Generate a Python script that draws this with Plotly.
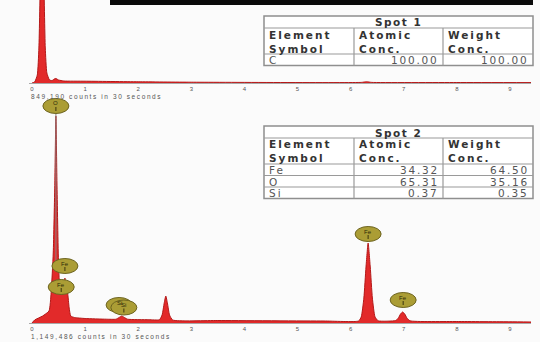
import plotly.graph_objects as go

W, H = 540, 342

# ---- spectra (energy in keV, counts) ----
spot1_energy = [0.0, 0.05, 0.10, 0.13, 0.16, 0.19, 0.22, 0.25, 0.28, 0.33, 0.38, 0.42,
                0.45, 0.50, 0.60, 1.0, 2.0, 3.0, 6.2, 6.3, 6.4, 8.0, 9.4]
spot1_counts = [0, 10, 80, 350, 1100, 1600, 1100, 350, 100, 30, 25, 40,
                45, 30, 20, 18, 12, 8, 6, 12, 6, 5, 4]

spot2_energy = [0.0, 0.05, 0.20, 0.32, 0.36, 0.40, 0.43, 0.45, 0.47, 0.50, 0.53, 0.57,
                0.60, 0.62, 0.64, 0.67, 0.70, 0.73, 0.80, 1.0, 1.4, 1.58, 1.64, 1.69,
                1.74, 1.80, 2.2, 2.40, 2.45, 2.49, 2.52, 2.55, 2.59, 2.65, 3.5, 5.5,
                6.15, 6.20, 6.25, 6.29, 6.33, 6.37, 6.41, 6.46, 6.52, 6.85, 6.90, 6.94,
                6.98, 7.02, 7.06, 7.12, 8.0, 9.0, 9.4]
spot2_counts = [0, 30, 70, 120, 300, 700, 1400, 2070, 1400, 600, 340, 320,
                340, 450, 340, 300, 150, 70, 55, 45, 38, 38, 55, 70,
                55, 38, 33, 33, 80, 200, 270, 200, 80, 30, 25, 20,
                20, 60, 250, 560, 800, 560, 250, 60, 22, 25, 50, 90,
                110, 90, 50, 22, 15, 12, 10]

# element markers on the spot 2 spectrum
marker_symbols = ["O", "Fe", "Fe", "Si", "Si", "Fe", "Fe"]
marker_energy = [0.45, 0.55, 0.62, 1.64, 1.73, 6.33, 6.99]
marker_counts = [2170, 360, 570, 180, 155, 890, 230]
o_line_bottom = 600          # lower end of the O line drawn through its peak

energy_ticks = list(range(10))
spot1_total = "849,190"
spot2_total = "1,149,486"

# ---- quantification tables ----
table_headers = [("Element", "Symbol"), ("Atomic", "Conc."), ("Weight", "Conc.")]
spot1_elements = ["C"]
spot1_atomic = [100.00]
spot1_weight = [100.00]
spot2_elements = ["Fe", "O", "Si"]
spot2_atomic = [34.32, 65.31, 0.37]
spot2_weight = [64.50, 35.16, 0.35]

# ---- layout helpers (pixel -> paper) ----
def px(x):
    return x / W

def py(y):
    return 1 - y / H

X0, KEV = 32.0, 53.1          # pixel of 0 keV, pixels per keV
XL, XR = 29.0, 531.0
xrange_ = [(XL - X0) / KEV, (XR - X0) / KEV]

RED_FILL = "#e22a2a"
RED_LINE = "#b41818"
TXT = "#333333"
FONT = "DejaVu Sans"
SMALL_FONT = "Liberation Sans"

fig = go.Figure()

fig.add_trace(go.Scatter(x=spot1_energy, y=spot1_counts, mode="lines",
                         line=dict(color=RED_LINE, width=1, shape="spline", smoothing=0.5),
                         fill="tozeroy", fillcolor=RED_FILL, xaxis="x", yaxis="y",
                         hoverinfo="skip", showlegend=False))
fig.add_trace(go.Scatter(x=spot2_energy, y=spot2_counts, mode="lines",
                         line=dict(color=RED_LINE, width=1, shape="spline", smoothing=0.5),
                         fill="tozeroy", fillcolor=RED_FILL, xaxis="x2", yaxis="y2",
                         hoverinfo="skip", showlegend=False))

axis_common = dict(domain=[px(XL), px(XR)], range=xrange_, showline=True,
                   linecolor="#a8a8a8", linewidth=1, tickvals=energy_ticks,
                   ticktext=[str(t) for t in energy_ticks],
                   tickfont=dict(family=SMALL_FONT, size=6, color="#555"),
                   ticks="", showgrid=False, zeroline=False, fixedrange=True)

shapes = []
annotations = []

def spaced(text, sp):
    return f'<span style="letter-spacing:{sp}px">{text}</span>'

# black scale bar strip at the top
shapes.append(dict(type="rect", xref="paper", yref="paper", x0=px(110), x1=px(533),
                   y0=py(5), y1=py(0), fillcolor="#0a0a0a", line=dict(width=0), layer="above"))

# counts captions
for total, y in ((spot1_total, 96), (spot2_total, 336)):
    annotations.append(dict(xref="paper", yref="paper", x=px(29), y=py(y), xanchor="left",
                            yanchor="middle", showarrow=False,
                            text=spaced(f"{total} counts in 30 seconds", 1.6),
                            font=dict(family=SMALL_FONT, size=6.5, color="#555")))


def draw_table(top, title, elements, atomic, weight):
    left, right = 264, 533
    cols = [264, 354, 443, 533]
    title_h, head_h, row_h = 12, 26, 11.5
    bottom = top + title_h + head_h + row_h * len(elements)
    shapes.append(dict(type="rect", xref="paper", yref="paper", x0=px(left), x1=px(right),
                       y0=py(bottom), y1=py(top), fillcolor="#ffffff",
                       line=dict(color="#8f8f8f", width=1.5)))
    ys = [top + title_h, top + title_h + head_h] + \
         [top + title_h + head_h + row_h * (i + 1) for i in range(len(elements) - 1)]
    for y in ys:
        shapes.append(dict(type="line", xref="paper", yref="paper", x0=px(left), x1=px(right),
                           y0=py(y), y1=py(y), line=dict(color="#9a9a9a", width=1.2)))
    for c in cols[1:-1]:
        shapes.append(dict(type="line", xref="paper", yref="paper", x0=px(c), x1=px(c),
                           y0=py(top + title_h), y1=py(bottom),
                           line=dict(color="#9a9a9a", width=1.2)))
    annotations.append(dict(xref="paper", yref="paper", x=px((left + right) / 2),
                            y=py(top + title_h / 2 + 0.5), xanchor="center", yanchor="middle",
                            showarrow=False, text="<b>" + spaced(title, 1.5) + "</b>",
                            font=dict(family=FONT, size=10.5, color=TXT)))
    for i, (l1, l2) in enumerate(table_headers):
        annotations.append(dict(xref="paper", yref="paper", x=px(cols[i] + 3),
                                y=py(top + title_h + head_h / 2 + 0.5), xanchor="left",
                                yanchor="middle", align="left", showarrow=False,
                                text="<b>" + spaced(l1, 2.0) + "<br>" + spaced(l2, 2.0) + "</b>",
                                font=dict(family=FONT, size=10.5, color=TXT)))
    for r, (el, a, w) in enumerate(zip(elements, atomic, weight)):
        yc = py(top + title_h + head_h + row_h * (r + 0.5) + 0.5)
        annotations.append(dict(xref="paper", yref="paper", x=px(cols[0] + 3), y=yc,
                                xanchor="left", yanchor="middle", showarrow=False,
                                text=spaced(el, 2), font=dict(family=FONT, size=10.5, color="#555")))
        for ci, v in ((1, a), (2, w)):
            annotations.append(dict(xref="paper", yref="paper", x=px(cols[ci + 1] - 2), y=yc,
                                    xanchor="right", yanchor="middle", showarrow=False,
                                    text=spaced(f"{v:.2f}", 1.8),
                                    font=dict(family=FONT, size=10.5, color="#555")))


draw_table(16, "Spot 1", spot1_elements, spot1_atomic, spot1_weight)
draw_table(126, "Spot 2", spot2_elements, spot2_atomic, spot2_weight)

# grey identification line through the O peak
shapes.append(dict(type="line", xref="x2", yref="y2", x0=marker_energy[0], x1=marker_energy[0],
                   y0=o_line_bottom, y1=marker_counts[0], line=dict(color="#8a7f7f", width=1)))

# element identification badges
for sym, e, c in zip(marker_symbols, marker_energy, marker_counts):
    shapes.append(dict(type="circle", xref="x2", yref="y2", xsizemode="pixel",
                       ysizemode="pixel", xanchor=e, yanchor=c, x0=-13, x1=13, y0=-7.5, y1=7.5,
                       fillcolor="#ab9d35", line=dict(color="#6d6420", width=1), layer="above"))
    shapes.append(dict(type="line", xref="x2", yref="y2", xsizemode="pixel",
                       ysizemode="pixel", xanchor=e, yanchor=c, x0=0, x1=0, y0=-1, y1=-5,
                       line=dict(color="#3a3510", width=1), layer="above"))
    annotations.append(dict(xref="x2", yref="y2", x=e, y=c, yshift=2.5, showarrow=False,
                            text=sym, font=dict(family=SMALL_FONT, size=6, color="#2e2a08")))

fig.update_layout(
    width=W, height=H,
    margin=dict(l=0, r=0, t=0, b=0),
    paper_bgcolor="#fbfbfb", plot_bgcolor="rgba(0,0,0,0)",
    xaxis=dict(anchor="y", **axis_common),
    yaxis=dict(domain=[py(83), 1.0], range=[0, 830], visible=False, fixedrange=True),
    xaxis2=dict(anchor="y2", **axis_common),
    yaxis2=dict(domain=[py(323), py(93)], range=[0, 2300], visible=False, fixedrange=True),
    shapes=shapes,
    annotations=annotations,
    showlegend=False,
)

fig.write_html("out.html")
